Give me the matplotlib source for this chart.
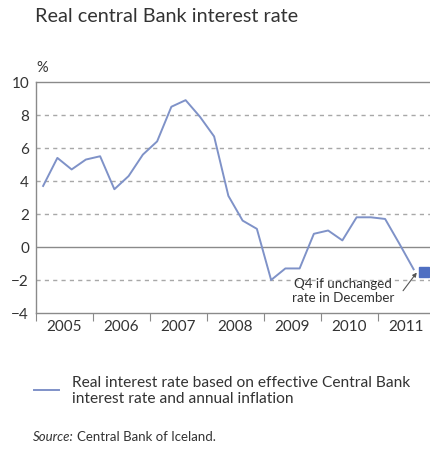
import numpy as np
import matplotlib.pyplot as plt
from matplotlib.ticker import FixedLocator, NullFormatter

plt.rcParams['font.family'] = ['Lato', 'DejaVu Sans']

# quarterly real interest rate, 2005Q1 - 2011Q3 (plotted mid-quarter)
quarters = np.arange(2005, 2011.75, 0.25) + 0.125
rate = [3.7, 5.4, 4.7, 5.3,
        5.5, 3.5, 4.3, 5.6,
        6.4, 8.5, 8.9, 7.9,
        6.7, 3.1, 1.6, 1.1,
        -2.0, -1.3, -1.3, 0.8,
        1.0, 0.4, 1.8, 1.8,
        1.7, 0.2, -1.35]
# projected Q4 2011 if rate unchanged
q4_x = 2011.8
q4_val = -1.5
years = [2005, 2006, 2007, 2008, 2009, 2010, 2011]

line_col = '#7f92c8'
grid_col = '#a8a8a8'
text_col = '#333333'

fig = plt.figure(figsize=(4.31, 4.52), dpi=100)
ax = fig.add_axes([36 / 431, 1 - 314 / 452, 1 - 36 / 431, 231 / 452])

ax.plot(quarters, rate, color=line_col, lw=1.4,
        label='Real interest rate based on effective Central Bank\ninterest rate and annual inflation')
ax.plot([q4_x], [q4_val], marker='s', ms=6.5, color='#4f6fc2', ls='none', clip_on=False)

ax.set_xlim(2005, 2011.93)
ax.set_ylim(-4, 10)

for v in [-2, 2, 4, 6, 8]:
    ax.axhline(v, color=grid_col, lw=1, ls=(0, (3, 3)), zorder=0)
ax.axhline(0, color='#8a8a8a', lw=1, zorder=0)

ax.spines['right'].set_visible(False)
for s in ['top', 'left', 'bottom']:
    ax.spines[s].set_color('#8a8a8a')
    ax.spines[s].set_linewidth(1)

ax.set_yticks(np.arange(-4, 11, 2))
ax.tick_params(axis='y', length=0, pad=5, labelsize=11, labelcolor=text_col)
ax.xaxis.set_major_locator(FixedLocator(years + [2012]))
ax.xaxis.set_major_formatter(NullFormatter())
ax.xaxis.set_minor_locator(FixedLocator([y + 0.5 for y in years]))
ax.set_xticklabels([str(y) for y in years], minor=True)
ax.tick_params(axis='x', which='major', direction='out', length=6, color='#8a8a8a')
ax.tick_params(axis='x', which='minor', length=0, pad=4, labelsize=11, labelcolor=text_col)

ax.text(2010.39, -2.63, 'Q4 if unchanged\nrate in December', ha='center', va='center',
        fontsize=9.6, color=text_col, linespacing=1.2)
ax.annotate('', xy=(2011.68, -1.55), xytext=(2011.44, -2.65),
            arrowprops=dict(arrowstyle='-|>', color='#555555', lw=0.8,
                            mutation_scale=6, shrinkA=0, shrinkB=0),
            annotation_clip=False)

fig.text(35 / 431, 1 - 17 / 452, 'Real central Bank interest rate', fontsize=14.3,
         color=text_col, va='center', ha='left')
fig.text(36 / 431, 1 - 68 / 452, '%', fontsize=10.5, color=text_col, va='center', ha='left')

fig.legend(loc='upper left', bbox_to_anchor=(28 / 431, 1 - 370 / 452), frameon=False,
           handlelength=1.6, handletextpad=0.8, fontsize=11.2, labelcolor=text_col,
           borderaxespad=0)

t1 = fig.text(33 / 431, 1 - 437 / 452, 'Source:', fontsize=9.5, style='italic',
              color=text_col, va='center', ha='left')
fig.canvas.draw()
bb = t1.get_window_extent()
fig.text((bb.x1 + 3) / 431, 1 - 437 / 452, 'Central Bank of Iceland.', fontsize=9.5,
         color=text_col, va='center', ha='left')

fig.savefig('out.png', dpi=100)
